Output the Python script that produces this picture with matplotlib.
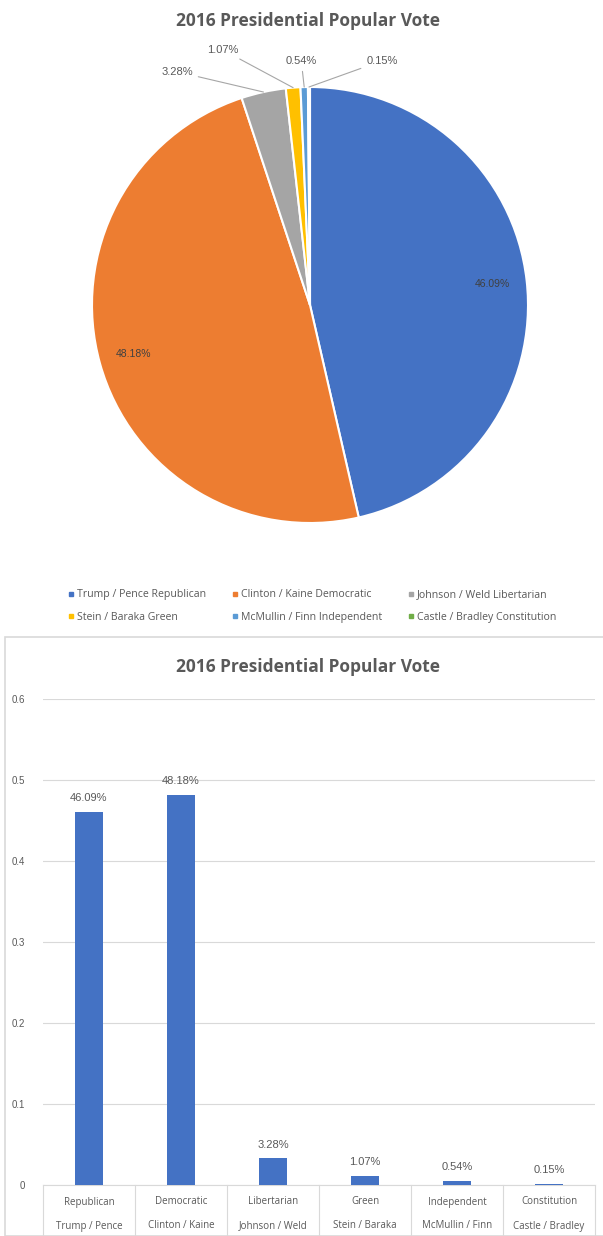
import matplotlib
matplotlib.use('Agg')
import matplotlib.pyplot as plt
import matplotlib.transforms as mtransforms
from matplotlib.lines import Line2D
from matplotlib.patches import Rectangle
import numpy as np

# data
candidates = ['Trump / Pence', 'Clinton / Kaine', 'Johnson / Weld',
              'Stein / Baraka', 'McMullin / Finn', 'Castle / Bradley']
parties = ['Republican', 'Democratic', 'Libertarian',
           'Green', 'Independent', 'Constitution']
shares = [0.4609, 0.4818, 0.0328, 0.0107, 0.0054, 0.0015]
colors = ['#4472C4', '#ED7D31', '#A5A5A5', '#FFC000', '#5B9BD5', '#70AD47']
title = '2016 Presidential Popular Vote'
yticks = [0, 0.1, 0.2, 0.3, 0.4, 0.5, 0.6]

W, H = 603, 1236
fig = plt.figure(figsize=(W / 100, H / 100), dpi=100)
fig.patch.set_facecolor('white')

TXT = '#595959'
NUMFONT = ['Liberation Sans', 'DejaVu Sans']
UIFONT = ['Open Sans', 'DejaVu Sans']


def fx(px):
    return px / W


def fy(py):
    return 1 - py / H


# ---------------- pie chart ----------------
fig.text(fx(308), fy(21), title, ha='center', va='center', fontsize=12.5,
         fontweight='bold', color=TXT, family=UIFONT)

cx, cy, r = 310, 305, 218
ax1 = fig.add_axes([fx(cx - r), fy(cy + r), 2 * r / W, 2 * r / H])
wedges, _ = ax1.pie(shares, colors=colors, startangle=90, counterclock=False,
                    wedgeprops=dict(edgecolor='white', linewidth=1.5))
ax1.set_xlim(-1, 1)
ax1.set_ylim(-1, 1)
ax1.axis('off')

# inside labels for the two big slices, outside with leader lines for the rest
outside_xy = {2: (-0.61, 1.07), 3: (-0.40, 1.17), 4: (-0.04, 1.12), 5: (0.33, 1.12)}
for i, w in enumerate(wedges):
    mid = np.deg2rad((w.theta1 + w.theta2) / 2)
    lab = f'{shares[i] * 100:.2f}%'
    if i < 2:
        ax1.text(0.84 * np.cos(mid), 0.84 * np.sin(mid), lab, ha='center',
                 va='center', fontsize=7.5, color='#404040', family=NUMFONT)
    else:
        ax1.annotate(lab, xy=(np.cos(mid), np.sin(mid)), xytext=outside_xy[i],
                     ha='center', va='center', fontsize=8, color=TXT,
                     family=NUMFONT, annotation_clip=False,
                     arrowprops=dict(arrowstyle='-', color='#A6A6A6', lw=0.8,
                                     shrinkA=2, shrinkB=0))

# legend is filled row by row in the reference, matplotlib fills by column
handles = [Line2D([], [], marker='s', linestyle='', markersize=2.5, color=c)
           for c in colors]
labels = [f'{c} {p}' for c, p in zip(candidates, parties)]
order = [0, 3, 1, 4, 2, 5]
fig.legend([handles[k] for k in order], [labels[k] for k in order], ncol=3,
           loc='center', bbox_to_anchor=(fx(312), fy(606)),
           frameon=False, labelcolor=TXT, handlelength=0.6,
           handletextpad=0.3, columnspacing=2.4, labelspacing=1.1,
           prop={'family': UIFONT, 'size': 7.6})

# ---------------- bar chart ----------------
fig.patches.append(Rectangle((fx(5), fy(1236)), fx(603 - 5) + 0.01, (1236 - 637) / H,
                             transform=fig.transFigure, fill=False,
                             edgecolor='#D9D9D9', linewidth=1.2))
fig.text(fx(308), fy(667), title, ha='center', va='center', fontsize=12.5,
         fontweight='bold', color=TXT, family=UIFONT)

x0, x1, ytop, ybot = 43, 595, 699, 1185
ax2 = fig.add_axes([fx(x0), fy(ybot), (x1 - x0) / W, (ybot - ytop) / H])
x = np.arange(len(shares))
bars = ax2.bar(x, shares, width=0.3, color='#4472C4', zorder=3)
ax2.set_xlim(-0.5, len(shares) - 0.5)
ax2.set_ylim(0, 0.6)
ax2.set_yticks(yticks)
ax2.set_yticklabels([f'{t:g}' for t in yticks], family=NUMFONT)
ax2.tick_params(axis='y', length=0, pad=13, labelsize=7, labelcolor=TXT)
ax2.set_xticks([])
ax2.grid(axis='y', color='#D9D9D9', linewidth=0.8, zorder=0)
for s in ['top', 'right', 'left']:
    ax2.spines[s].set_visible(False)
ax2.spines['bottom'].set_color('#D9D9D9')
ax2.spines['bottom'].set_linewidth(0.8)

for b, v in zip(bars, shares):
    ax2.annotate(f'{v * 100:.2f}%', (b.get_x() + b.get_width() / 2, v),
                 xytext=(0, 10), textcoords='offset points', ha='center',
                 va='center', fontsize=8, color=TXT, family=NUMFONT)

# two-level category axis
trans = mtransforms.blended_transform_factory(ax2.transData, ax2.transAxes)
sep_bottom = -(1236 - ybot) / (ybot - ytop)
for k in range(len(shares) + 1):
    ax2.plot([k - 0.5, k - 0.5], [0, sep_bottom], transform=trans, color='#D9D9D9',
             linewidth=0.8, clip_on=False)
for i in x:
    ax2.text(i, -(1202 - ybot) / (ybot - ytop), parties[i], transform=trans,
             ha='center', va='center', fontsize=7, color=TXT, family=UIFONT)
    ax2.text(i, -(1226 - ybot) / (ybot - ytop), candidates[i], transform=trans,
             ha='center', va='center', fontsize=7, color=TXT, family=UIFONT)

fig.savefig('out.png', dpi=100)
